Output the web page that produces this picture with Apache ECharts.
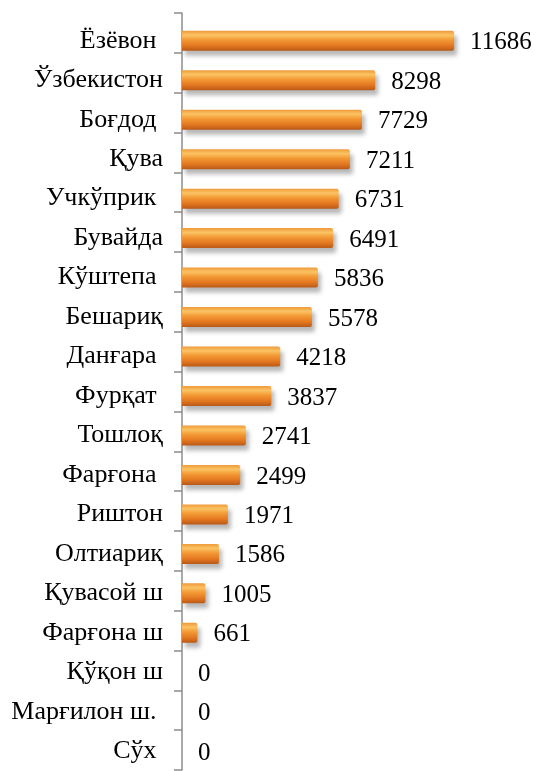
<!DOCTYPE html>
<html>
<head>
<meta charset="utf-8">
<script src="https://cdn.jsdelivr.net/npm/echarts@6/dist/echarts.min.js"></script>
<style>html,body{margin:0;padding:0;background:#fff;}#c{width:540px;height:771px;}</style>
</head>
<body>
<div id="c"></div>
<script>
var categories = ['Ёзёвон ', 'Ўзбекистон', 'Боғдод ', 'Қува', 'Учкўприк ', 'Бувайда', 'Кўштепа ', 'Бешариқ', 'Данғара ', 'Фурқат ', 'Тошлоқ', 'Фарғона ', 'Риштон', 'Олтиариқ', 'Қувасой ш', 'Фарғона ш', 'Қўқон ш', 'Марғилон ш. ', 'Сўх '];
var values = [11686, 8298, 7729, 7211, 6731, 6491, 5836, 5578, 4218, 3837, 2741, 2499, 1971, 1586, 1005, 661, 0, 0, 0];

var chart = echarts.init(document.getElementById('c'), null, {renderer: 'canvas'});
var serif = "'Liberation Serif', 'Times New Roman', serif";
chart.setOption({
  animation: false,
  grid: [
    {left: 182, top: 13, width: 326, height: 757},
    {left: 182, top: 21, width: 326, height: 757}
  ],
  xAxis: [
    {gridIndex: 0, type: 'value', min: 0, max: 14000, show: false},
    {gridIndex: 1, type: 'value', min: 0, max: 14000, show: false}
  ],
  yAxis: [
    {gridIndex: 0, type: 'category', inverse: true, data: categories,
     axisLine: {show: true, lineStyle: {color: '#8c8c8c', width: 1.5}},
     axisTick: {show: true, interval: 0, length: 8, lineStyle: {color: '#8c8c8c', width: 1.5}},
     axisLabel: {show: false}, splitLine: {show: false}},
    {gridIndex: 1, type: 'category', inverse: true, data: categories,
     axisLine: {show: false}, axisTick: {show: false},
     axisLabel: {margin: 19, fontSize: 26, fontFamily: serif, color: '#000'},
     splitLine: {show: false}}
  ],
  series: [{
    type: 'bar', xAxisIndex: 1, yAxisIndex: 1, data: values, barWidth: 20,
    itemStyle: {
      color: new echarts.graphic.LinearGradient(0, 0, 0, 1, [
        {offset: 0, color: '#ef9a3a'},
        {offset: 0.22, color: '#fbc363'},
        {offset: 0.45, color: '#f39a35'},
        {offset: 0.75, color: '#e37720'},
        {offset: 1, color: '#b95917'}
      ]),
      borderRadius: [0, 2, 2, 0],
      shadowColor: 'rgba(0,0,0,0.28)', shadowBlur: 4, shadowOffsetX: 3, shadowOffsetY: 5
    },
    label: {show: true, position: 'right', distance: 16, offset: [0, 2],
            fontSize: 25, fontFamily: serif, color: '#000'}
  }]
});
</script>
</body>
</html>
